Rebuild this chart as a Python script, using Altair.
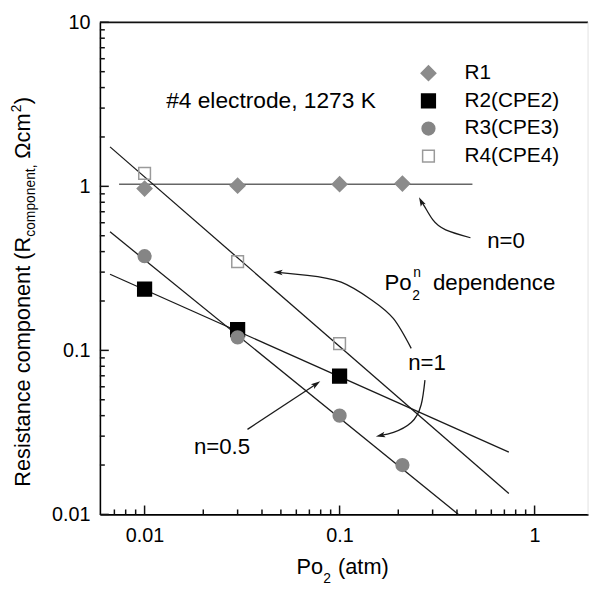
import altair as alt
import pandas as pd

FONT = "Liberation Sans"

# ---------------- data ----------------
series = ["R1", "R2(CPE2)", "R3(CPE3)", "R4(CPE4)"]
po2_r1 = [0.01, 0.03, 0.1, 0.21]
r1 = [0.97, 1.01, 1.03, 1.04]
po2_r2 = [0.01, 0.03, 0.1]
r2 = [0.236, 0.134, 0.0697]
po2_r3 = [0.01, 0.03, 0.1, 0.21]
r3 = [0.375, 0.12, 0.040, 0.020]
po2_r4 = [0.01, 0.03, 0.1]
r4 = [1.20, 0.348, 0.110]

# fitted Po2^n lines (end points)
fit_names = ["n0", "r2", "r3", "r4"]
fit_x0 = [0.0074, 0.00665, 0.00665, 0.00665]
fit_x1 = [0.48, 0.738, 0.407, 0.738]
fit_y0 = [1.03, 0.291, 0.528, 1.74]
fit_y1 = [1.03, 0.024, 0.01, 0.0134]
fit_col = ["#666666", "#1a1a1a", "#1a1a1a", "#1a1a1a"]

# axis ticks
y_major = [0.01, 0.1, 1, 10]
y_minor = [0.02, 0.03, 0.04, 0.05, 0.06, 0.07, 0.08, 0.09,
           0.2, 0.3, 0.4, 0.5, 0.6, 0.7, 0.8, 0.9,
           2, 3, 4, 5, 6, 7, 8, 9]
x_major = [0.01, 0.1, 1]
x_minor = [0.007, 0.008, 0.009,
           0.02, 0.03, 0.04, 0.05, 0.06, 0.07, 0.08, 0.09,
           0.2, 0.3, 0.4, 0.5, 0.6, 0.7, 0.8, 0.9]
x_domain = [0.0059, 1.88]
y_domain = [0.01, 10.0]

# annotation arrows (paths)
arr_n0_x = [0.469, 0.350, 0.301, 0.274, 0.262]
arr_n0_y = [0.486, 0.543, 0.624, 0.747, 0.81]
arr_up_x = [0.233, 0.189, 0.146, 0.1019, 0.0684, 0.0483]
arr_up_y = [0.1028, 0.156, 0.203, 0.2605, 0.287, 0.299]
arr_dn_x = [0.274, 0.262, 0.233, 0.189, 0.162]
arr_dn_y = [0.0659, 0.0466, 0.0363, 0.0316, 0.0303]
arr_h_x = [0.0337, 0.0760]
arr_h_y = [0.033, 0.0624]
head_x = [0.262, 0.0483, 0.162, 0.0760]
head_y = [0.81, 0.299, 0.0303, 0.0624]
head_ang = [333, 272, 257, 56]

# annotation texts
ann_text = ["n=0", "n=1", "n=0.5"]
ann_x = [0.571, 0.225, 0.0179]
ann_y = [0.423, 0.0758, 0.0233]
cond_text = ["#4 electrode, 1273 K"]
cond_x = [0.0129]
cond_y = [2.99]
dep_x = [0.170]
dep_y = [0.233]

# ---------------- tables ----------------
pts = pd.concat([
    pd.DataFrame({"x": po2_r1, "y": r1, "series": series[0]}),
    pd.DataFrame({"x": po2_r2, "y": r2, "series": series[1]}),
    pd.DataFrame({"x": po2_r3, "y": r3, "series": series[2]}),
    pd.DataFrame({"x": po2_r4, "y": r4, "series": series[3]}),
], ignore_index=True)

lines_df = pd.concat([
    pd.DataFrame({"name": fit_names, "x": fit_x0, "y": fit_y0, "col": fit_col, "w": 1.3}),
    pd.DataFrame({"name": fit_names, "x": fit_x1, "y": fit_y1, "col": fit_col, "w": 1.3}),
    pd.DataFrame({"name": ["top", "top"], "x": x_domain, "y": [y_domain[1]] * 2,
                  "col": "#111111", "w": 1.8}),
    pd.DataFrame({"name": ["right", "right"], "x": [x_domain[1]] * 2, "y": y_domain,
                  "col": "#e2e2e2", "w": 1.0}),
], ignore_index=True)

arrows = pd.concat([
    pd.DataFrame({"name": "a0", "i": range(len(arr_n0_x)), "x": arr_n0_x, "y": arr_n0_y}),
    pd.DataFrame({"name": "a1", "i": range(len(arr_up_x)), "x": arr_up_x, "y": arr_up_y}),
    pd.DataFrame({"name": "a2", "i": range(len(arr_dn_x)), "x": arr_dn_x, "y": arr_dn_y}),
    pd.DataFrame({"name": "a3", "i": range(len(arr_h_x)), "x": arr_h_x, "y": arr_h_y}),
], ignore_index=True)

marks_df = pd.concat([
    pd.DataFrame({"kind": "head", "x": head_x, "y": head_y, "ang": head_ang}),
    pd.DataFrame({"kind": "ymaj", "x": x_domain[0], "y": y_major, "ang": 0}),
    pd.DataFrame({"kind": "ymin", "x": x_domain[0], "y": y_minor, "ang": 0}),
    pd.DataFrame({"kind": "xmaj", "x": x_major, "y": y_domain[0], "ang": 0}),
    pd.DataFrame({"kind": "xmin", "x": x_minor, "y": y_domain[0], "ang": 0}),
], ignore_index=True)

ann = pd.DataFrame({"t": ann_text, "x": ann_x, "y": ann_y})
cond = pd.DataFrame({"t": cond_text, "x": cond_x, "y": cond_y})
dep = pd.DataFrame({"x": dep_x, "y": dep_y})

# ---------------- scales / axes ----------------
xs = alt.Scale(type="log", domain=x_domain, nice=False)
ys = alt.Scale(type="log", domain=y_domain, nice=False)
x_axis = alt.Axis(values=x_major, format="~g", title=None, grid=False, ticks=False,
                  tickSize=0, domainColor="black", domainWidth=1.6, labelFont=FONT,
                  labelFontSize=20, labelColor="black", labelPadding=11,
                  labelFlush=False, labelOverlap=False)
y_axis = alt.Axis(values=y_major, format="~g", title=None, grid=False, ticks=False,
                  tickSize=0, domainColor="black", domainWidth=1.6, labelFont=FONT,
                  labelFontSize=20, labelColor="black", labelPadding=10,
                  labelFlush=False, labelOverlap=False)


def X():
    return alt.X("x:Q", scale=xs, axis=x_axis)


def Y():
    return alt.Y("y:Q", scale=ys, axis=y_axis)


W, H = 494, 498

# ---------------- layers ----------------
lines = alt.Chart(lines_df).mark_line().encode(
    x=X(), y=Y(), detail="name:N",
    color=alt.Color("col:N", scale=None),
    strokeWidth=alt.StrokeWidth("w:Q", scale=None),
)

arrow_lines = alt.Chart(arrows).mark_line(color="#1a1a1a", strokeWidth=1.3, interpolate="natural").encode(
    x=X(), y=Y(), detail="name:N", order="i:Q")

ARROW = "M0,-1L0.6,1L0,0.55L-0.6,1Z"
arrow_heads = alt.Chart(marks_df).transform_filter(alt.datum.kind == "head").mark_point(
    shape=ARROW, filled=True, size=90, color="#1a1a1a", opacity=1).encode(
    x=X(), y=Y(), angle=alt.Angle("ang:Q", scale=None))


def ticks(kind, shape, size):
    return alt.Chart(marks_df).transform_filter(alt.datum.kind == kind).mark_point(
        shape=shape, size=size, filled=False, color="#111111", strokeWidth=1.5, opacity=1
    ).encode(x=X(), y=Y())


tick_layers = [
    ticks("ymaj", "M0,0L2,0", 81),
    ticks("ymin", "M0,0L2,0", 25),
    ticks("xmaj", "M0,0L0,-2", 81),
    ticks("xmin", "M0,0L0,-2", 25),
]

leg = alt.Legend(orient="none", legendX=322, legendY=41, title=None, labelFont=FONT,
                 labelFontSize=21, labelColor="black", rowPadding=6, labelOffset=26,
                 padding=0, symbolStrokeWidth=1.5, symbolOpacity=1)

points = alt.Chart(pts).mark_point(filled=True, strokeWidth=1.5, opacity=1).encode(
    x=X(), y=Y(),
    shape=alt.Shape("series:N", scale=alt.Scale(domain=series, range=["diamond", "square", "circle", "square"]), legend=leg),
    fill=alt.Fill("series:N", scale=alt.Scale(domain=series, range=["#8c8c8c", "#000000", "#858585", "transparent"]), legend=leg),
    stroke=alt.Stroke("series:N", scale=alt.Scale(domain=series, range=["#8c8c8c", "#000000", "#858585", "#9a9a9a"]), legend=leg),
    size=alt.Size("series:N", scale=alt.Scale(domain=series, range=[220, 140, 170, 135]), legend=leg),
)

texts = alt.Chart(ann).mark_text(align="left", baseline="alphabetic", font=FONT, fontSize=22.5, color="black").encode(
    x=X(), y=Y(), text="t:N")
cond_txt = alt.Chart(cond).mark_text(align="left", baseline="alphabetic", font=FONT, fontSize=23, color="black").encode(
    x=X(), y=Y(), text="t:N")


def dep_piece(s, fs, dx, dy):
    return alt.Chart(dep.assign(t=s)).mark_text(
        align="left", baseline="alphabetic", font=FONT, fontSize=fs, color="black", dx=dx, dy=dy
    ).encode(x=X(), y=Y(), text="t:N")


dep_layers = [dep_piece("Po", 22.5, 0, 0), dep_piece("2", 14, 28, 10),
              dep_piece("n", 14, 29, -13), dep_piece("dependence", 22.5, 49, 0)]


def label(s, fs, px, py, angle=0):
    kw = dict(align="left", baseline="alphabetic", font=FONT, fontSize=fs, color="black")
    if angle:
        kw["angle"] = angle
    return alt.Chart(pd.DataFrame({"t": [s], "k": [f"{px},{py}"]})).mark_text(**kw).encode(
        x=alt.value(px), y=alt.value(py), text="t:N")


title_layers = [
    label("Resistance component (R", 22, -71, 470, 270),
    label("component,", 14, -66, 217, 270),
    label("\u03a9cm", 22, -71, 138, 270),
    label("2", 14, -80, 91, 270),
    label(")", 22, -71, 83, 270),
    label("Po", 22, 199, 558),
    label("2", 14, 226, 567),
    label("(atm)", 22, 241, 558),
]

chart = alt.layer(
    lines, arrow_lines, arrow_heads, *tick_layers, points, texts, cond_txt, *dep_layers,
    *title_layers
).properties(
    width=W, height=H,
    padding={"left": 2, "top": 1, "right": 0, "bottom": 0},
).configure_view(stroke=None)

chart.save("out.html", embed_options={"renderer": "svg", "actions": False})
